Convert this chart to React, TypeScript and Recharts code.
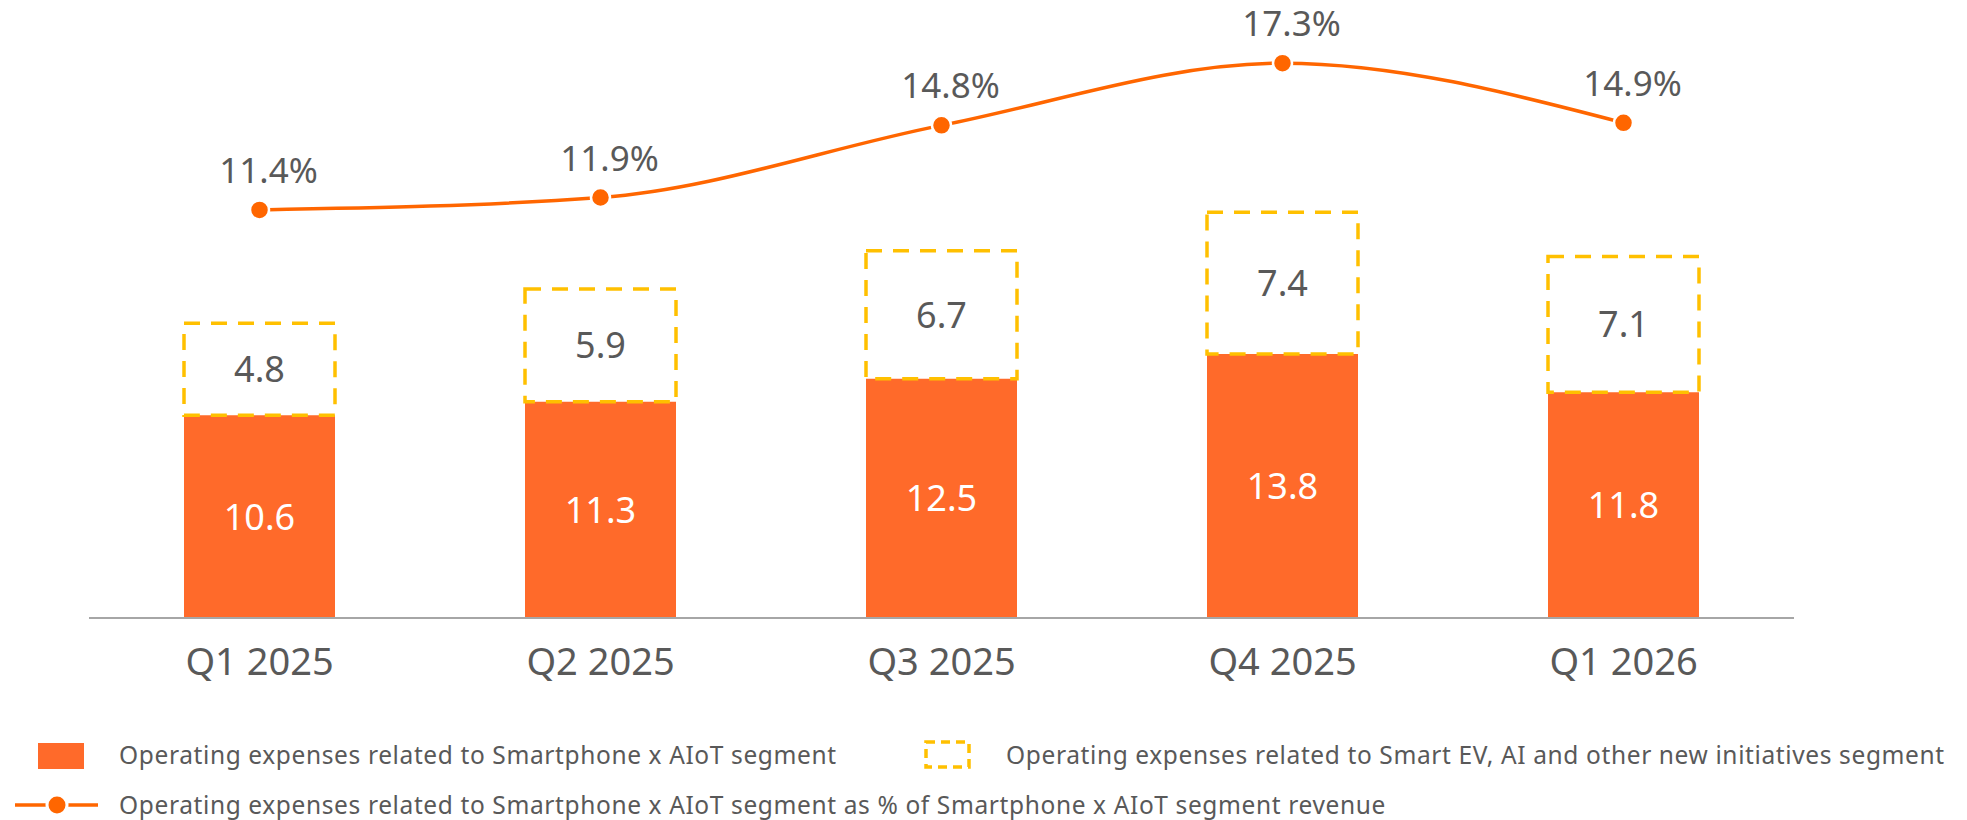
import React from 'react';
import { ComposedChart, Bar, Line, XAxis, YAxis, LabelList } from 'recharts';

const categories = ['Q1 2025', 'Q2 2025', 'Q3 2025', 'Q4 2025', 'Q1 2026'];
const smartphoneOpex = [10.6, 11.3, 12.5, 13.8, 11.8];
const newInitiativesOpex = [4.8, 5.9, 6.7, 7.4, 7.1];
const opexRatio = [11.4, 11.9, 14.8, 17.3, 14.9];

const legendNames = [
  'Operating expenses related to Smartphone x AIoT segment',
  'Operating expenses related to Smart EV, AI and other new initiatives segment',
  'Operating expenses related to Smartphone x AIoT segment as % of Smartphone x AIoT segment revenue',
];

const data = categories.map((c, i) => ({
  name: c,
  smart: smartphoneOpex[i],
  ev: newInitiativesOpex[i],
  ratio: opexRatio[i],
}));

const FONT = '"Noto Sans", sans-serif';
const GRAY = '#595959';
const ORANGE_BAR = '#FF6A2A';
const ORANGE_LINE = '#FF6600';
const YELLOW = '#FFC000';

const XTick = (props: any) => {
  const { x, y, payload } = props;
  return (
    <text x={x} y={y + 57} textAnchor="middle" fontSize={38} fill={GRAY} fontFamily={FONT}>
      {payload.value}
    </text>
  );
};

const whiteLabel = (props: any) => {
  const { x, y, width, height, value } = props;
  return (
    <text x={x + width / 2} y={y + height / 2} dy="0.36em" textAnchor="middle" fontSize={36} fill="#FFFFFF" fontFamily={FONT}>
      {value.toFixed(1)}
    </text>
  );
};

const grayLabel = (props: any) => {
  const { x, y, width, height, value } = props;
  return (
    <text x={x + width / 2} y={y + height / 2} dy="0.36em" textAnchor="middle" fontSize={36} fill={GRAY} fontFamily={FONT}>
      {value.toFixed(1)}
    </text>
  );
};

const pctLabel = (props: any) => {
  const { x, y, value } = props;
  return (
    <text x={x + 9} y={y - 27} textAnchor="middle" fontSize={35} fill={GRAY} fontFamily={FONT}>
      {value.toFixed(1) + '%'}
    </text>
  );
};

const legendText = {
  fontSize: 24.5,
  fill: GRAY,
  fontFamily: FONT,
  letterSpacing: 0.62,
};

export default function App() {
  return (
    <div style={{ position: 'absolute', left: 0, top: 0, width: 1967, height: 820, background: '#fff' }}>
      <ComposedChart
        width={1967}
        height={820}
        data={data}
        margin={{ top: 44, right: 173, left: 89, bottom: 0 }}
      >
        <XAxis
          dataKey="name"
          height={202}
          tickSize={0}
          tickMargin={0}
          tickLine={false}
          axisLine={{ stroke: '#A6A6A6', strokeWidth: 2 }}
          tick={<XTick />}
          interval={0}
        />
        <YAxis yAxisId="left" hide domain={[0, 30]} />
        <YAxis yAxisId="right" hide domain={[-5, 18.07]} orientation="right" />
        <Bar yAxisId="left" dataKey="smart" stackId="a" fill={ORANGE_BAR} barSize={151} isAnimationActive={false}>
          <LabelList dataKey="smart" content={whiteLabel} />
        </Bar>
        <Bar
          yAxisId="left"
          dataKey="ev"
          stackId="a"
          fill="none"
          stroke={YELLOW}
          strokeWidth={3.5}
          strokeDasharray="16 11"
          barSize={151}
          isAnimationActive={false}
        >
          <LabelList dataKey="ev" content={grayLabel} />
        </Bar>
        <Line
          yAxisId="right"
          dataKey="ratio"
          type="monotone"
          stroke={ORANGE_LINE}
          strokeWidth={3.5}
          dot={{ r: 9.5, fill: ORANGE_LINE, stroke: '#FFFFFF', strokeWidth: 2.5 }}
          activeDot={false}
          isAnimationActive={false}
        >
          <LabelList dataKey="ratio" content={pctLabel} />
        </Line>
      </ComposedChart>
      <svg width={1967} height={100} style={{ position: 'absolute', left: 0, top: 720 }}>
        <rect x={38} y={23} width={46} height={26} fill={ORANGE_BAR} />
        <text x={119} y={35} dy="0.36em" {...legendText}>{legendNames[0]}</text>
        <rect x={926} y={22} width={43} height={25} fill="none" stroke={YELLOW} strokeWidth={3.5} strokeDasharray="9 6" />
        <text x={1006} y={35} dy="0.36em" {...legendText}>{legendNames[1]}</text>
        <line x1={15} y1={85} x2={98} y2={85} stroke={ORANGE_LINE} strokeWidth={3.5} />
        <circle cx={57} cy={85} r={10} fill={ORANGE_LINE} stroke="#FFFFFF" strokeWidth={3} />
        <text x={119} y={85} dy="0.36em" {...legendText}>{legendNames[2]}</text>
      </svg>
    </div>
  );
}
